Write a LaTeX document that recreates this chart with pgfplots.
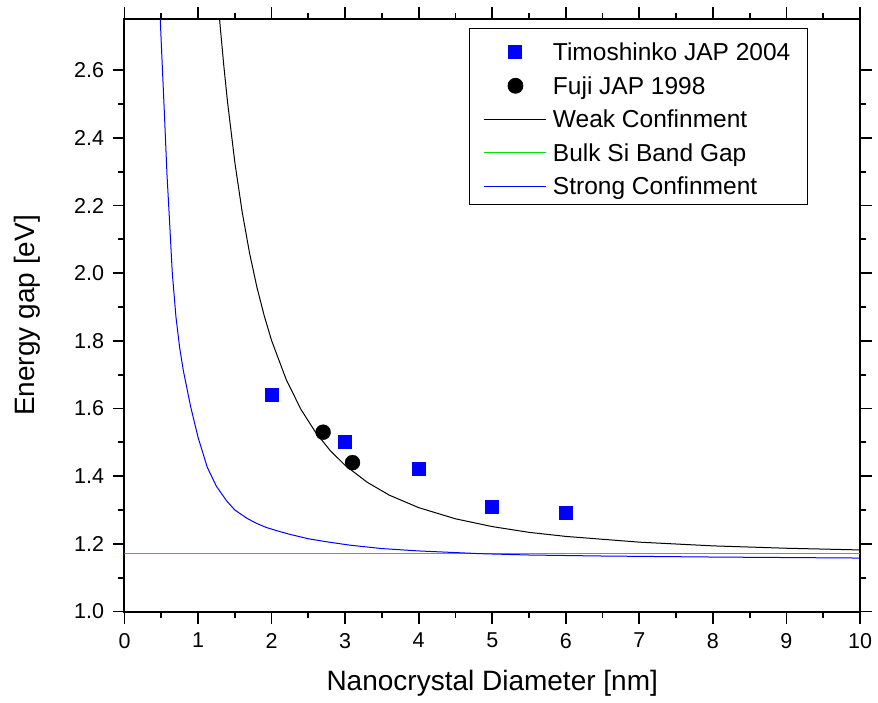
\documentclass[border=0pt]{standalone}
\usepackage{fontspec}
\setmainfont{Liberation Sans}
\usepackage{pgfplots}
\pgfplotsset{compat=1.18}
\begin{document}
\begin{tikzpicture}[x=1pt,y=1pt]
\path[use as bounding box] (-124.5,-90.5) rectangle (753.5,611.5);
\begin{axis}[
  at={(0,0)}, anchor=south west,
  scale only axis, width=735.5pt, height=592pt,
  xmin=0, xmax=10, ymin=1.0, ymax=2.75,
  xtick={0,1,2,3,4,5,6,7,8,9,10},
  ytick={1.0,1.2,1.4,1.6,1.8,2.0,2.2,2.4,2.6},
  minor x tick num=1, minor y tick num=1,
  tick align=outside,
  major tick length=12pt, minor tick length=6pt,
  every tick/.style={black, line width=1.8pt},
  axis line style={line width=2pt},
  /pgf/number format/assume math mode=true,
  xticklabel style={font=\fontsize{21.5}{26}\selectfont, yshift=-6pt},
  yticklabel style={font=\fontsize{21.5}{26}\selectfont, xshift=-5pt, /pgf/number format/.cd, fixed, fixed zerofill, precision=1},
  xlabel={Nanocrystal Diameter [nm]},
  ylabel={Energy gap [eV]},
  label style={font=\fontsize{28}{33}\selectfont},
  xlabel style={at={(axis description cs:0.5,-0.1216)}, anchor=center},
  ylabel style={at={(axis description cs:-0.1319,0.5)}, anchor=center},
  legend style={at={(0.929,0.985)}, anchor=north east, draw=black, line width=0.8pt,
    font=\fontsize{24.5}{28}\selectfont, inner xsep=15pt, inner ysep=8pt,
    nodes={inner sep=2pt, text height=22pt, text depth=0pt}, row sep=7.5pt, column sep=4pt},
  legend cell align=left,
  legend image code/.code={\draw[mark repeat=2,mark phase=2,#1] plot coordinates {(0pt,-2.5pt) (31pt,-2.5pt) (62pt,-2.5pt)};},
]
\addplot[only marks, mark=square*, mark size=6.5pt, color=blue, mark options={line width=0pt}] coordinates {
(2,1.64) (3,1.50) (4,1.42) (5,1.31) (6,1.29)};
\addlegendentry{Timoshinko JAP 2004}
\addplot[only marks, mark=*, mark size=7.5pt, color=black] coordinates {
(2.7,1.53) (3.1,1.44)};
\addlegendentry{Fuji JAP 1998}
\addplot[black, line width=1pt, no marks] coordinates {
(1.26,2.836) (1.30,2.732) (1.35,2.614) (1.40,2.508) (1.50,2.328) (1.60,2.181)
(1.70,2.060) (1.80,1.959) (1.90,1.874) (2.00,1.801) (2.20,1.685) (2.40,1.597)
(2.60,1.529) (2.80,1.475) (3.00,1.432) (3.30,1.382) (3.60,1.344) (4.00,1.307)
(4.50,1.274) (5.00,1.251) (5.50,1.234) (6.00,1.222) (7.00,1.205) (8.00,1.194)
(9.00,1.187) (10.0,1.182)};
\addlegendentry{Weak Confinment}
\addplot[color={rgb,255:red,0;green,230;blue,0}, line width=1pt, no marks] coordinates {(0,1.17) (10,1.17)};
\addlegendentry{Bulk Si Band Gap}
\addplot[blue, line width=1pt, no marks] coordinates {
(0.47,2.90) (0.487,2.748) (0.50,2.68) (0.541,2.48) (0.578,2.29) (0.605,2.184)
(0.65,2.00) (0.70,1.87) (0.75,1.78) (0.80,1.712) (0.90,1.605) (1.00,1.515)
(1.126,1.426) (1.25,1.37) (1.389,1.327) (1.50,1.300) (1.661,1.276) (1.80,1.260)
(1.933,1.248) (2.10,1.237) (2.25,1.228) (2.50,1.215) (2.75,1.206) (3.07,1.196)
(3.50,1.186) (4.00,1.179) (4.83,1.171) (5.50,1.167) (6.50,1.164) (8.00,1.161)
(10.0,1.158)};
\addlegendentry{Strong Confinment}
\end{axis}
\end{tikzpicture}
\end{document}
